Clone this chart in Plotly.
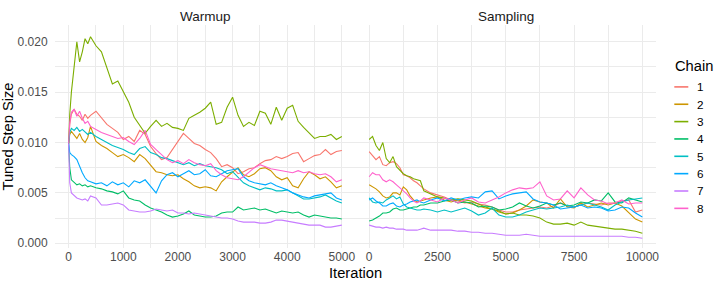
import plotly.graph_objects as go

# ---------------- data ----------------
chains = ["1", "2", "3", "4", "5", "6", "7", "8"]
colors = ["#F8766D", "#CD9600", "#7CAE00", "#00BE67", "#00BFC4", "#00A9FF", "#C77CFF", "#FF61CC"]

warm_iter = [0, 20, 50, 100, 150, 200, 250, 300, 350, 400] + list(range(500, 5001, 100))
samp_iter = list(range(0, 2001, 125)) + list(range(2250, 10001, 250))

warm_1 = [.0099, .0118, .0128, .0133, .0128, .0126, .0122, .0128, .0124, .0127,
          .0131, .0124, .0118, .0114, .0110, .0103, .0106, .0101, .0112, .0108,
          .0096, .0089, .0083, .0085, .0093, .0101, .0109, .0104, .0099, .0097,
          .0093, .0090, .0084, .0076, .0078, .0075, .0069, .0071, .0074, .0075,
          .0079, .0082, .0083, .0086, .0084, .0086, .0089, .0090, .0081, .0084,
          .0087, .0088, .0093, .0088, .0091, .0092]
warm_2 = [.0099, .0108, .0111, .0107, .0104, .0109, .0103, .0100, .0105, .0116,
          .0101, .0097, .0094, .0090, .0086, .0088, .0085, .0081, .0088, .0084,
          .0077, .0071, .0070, .0068, .0067, .0068, .0064, .0061, .0057, .0055,
          .0056, .0055, .0052, .0061, .0066, .0071, .0075, .0068, .0066, .0069,
          .0074, .0075, .0072, .0066, .0063, .0065, .0057, .0055, .0064, .0071,
          .0068, .0064, .0066, .0061, .0055, .0057]
warm_3 = [.0099, .0128, .0150, .0172, .0200, .0180, .0190, .0203, .0198, .0205,
          .0196, .0190, .0175, .0158, .0161, .0150, .0140, .0125, .0117, .0109,
          .0116, .0122, .0116, .0119, .0115, .0114, .0112, .0124, .0127, .0130,
          .0134, .0140, .0118, .0120, .0135, .0145, .0127, .0116, .0120, .0117,
          .0131, .0129, .0118, .0135, .0122, .0134, .0137, .0121, .0115, .0110,
          .0104, .0106, .0106, .0108, .0103, .0106]
warm_4 = [.0099, .0075, .0063, .0060, .0058, .0059, .0057, .0058, .0056, .0057,
          .0055, .0054, .0052, .0051, .0049, .0052, .0045, .0043, .0042, .0038,
          .0035, .0033, .0031, .0028, .0026, .0027, .0029, .0032, .0028, .0027,
          .0026, .0026, .0027, .0030, .0031, .0031, .0036, .0033, .0034, .0035,
          .0033, .0034, .0032, .0030, .0032, .0031, .0030, .0031, .0028, .0026,
          .0028, .0027, .0026, .0025, .0025, .0024]
warm_5 = [.0099, .0110, .0114, .0112, .0115, .0111, .0113, .0110, .0108, .0110,
          .0106, .0103, .0100, .0097, .0095, .0093, .0090, .0088, .0094, .0096,
          .0090, .0088, .0085, .0084, .0082, .0080, .0078, .0080, .0077, .0079,
          .0077, .0076, .0075, .0073, .0069, .0071, .0065, .0060, .0057, .0055,
          .0053, .0055, .0054, .0052, .0052, .0053, .0050, .0047, .0044, .0044,
          .0045, .0046, .0048, .0045, .0042, .0040]
warm_6 = [.0099, .0090, .0088, .0086, .0083, .0076, .0070, .0065, .0062, .0061,
          .0059, .0060, .0057, .0061, .0058, .0060, .0056, .0062, .0060, .0063,
          .0056, .0050, .0062, .0068, .0070, .0066, .0069, .0072, .0068, .0069,
          .0073, .0067, .0066, .0069, .0072, .0073, .0074, .0066, .0062, .0060,
          .0059, .0058, .0060, .0057, .0055, .0053, .0050, .0048, .0046, .0045,
          .0047, .0048, .0049, .0050, .0045, .0043]
warm_7 = [.0099, .0060, .0050, .0047, .0045, .0044, .0043, .0044, .0042, .0047,
          .0045, .0038, .0038, .0039, .0040, .0038, .0033, .0032, .0031, .0031,
          .0032, .0034, .0033, .0032, .0033, .0030, .0030, .0029, .0030, .0029,
          .0028, .0027, .0026, .0025, .0025, .0024, .0022, .0021, .0021, .0021,
          .0020, .0020, .0021, .0023, .0023, .0022, .0021, .0020, .0019, .0018,
          .0018, .0018, .0016, .0016, .0017, .0018]
warm_8 = [.0099, .0120, .0130, .0133, .0126, .0131, .0124, .0119, .0121, .0116,
          .0113, .0110, .0108, .0106, .0104, .0105, .0101, .0098, .0104, .0112,
          .0098, .0093, .0088, .0083, .0080, .0082, .0079, .0083, .0080, .0078,
          .0077, .0079, .0072, .0068, .0065, .0064, .0063, .0066, .0071, .0075,
          .0078, .0076, .0074, .0073, .0072, .0071, .0070, .0072, .0070, .0071,
          .0069, .0068, .0069, .0066, .0061, .0063]

samp_1 = [.0091, .0087, .0083, .0086, .0078, .0077, .0080, .0081, .0079, .0075,
          .0068, .0067, .0065, .0062, .0060, .0057, .0054,
          .0050, .0048, .0046, .0043, .0042, .0040, .0041, .0039, .0038, .0036,
          .0033, .0031, .0031, .0033, .0034, .0035, .0036, .0035, .0037, .0040,
          .0037, .0036, .0038, .0040, .0039, .0038, .0040, .0040, .0042, .0043,
          .0031, .0033]
samp_2 = [.0058, .0056, .0054, .0051, .0047, .0045, .0046, .0050, .0050, .0048,
          .0056, .0053, .0047, .0043, .0041, .0042, .0043,
          .0045, .0046, .0043, .0041, .0043, .0041, .0039, .0037, .0035, .0034,
          .0031, .0029, .0030, .0033, .0037, .0043, .0041, .0040, .0035, .0044,
          .0036, .0035, .0040, .0036, .0038, .0040, .0038, .0040, .0037, .0030,
          .0024, .0021]
samp_3 = [.0103, .0106, .0097, .0092, .0100, .0084, .0080, .0086, .0076, .0072,
          .0069, .0067, .0066, .0064, .0063, .0062, .0052,
          .0049, .0046, .0045, .0043, .0044, .0043, .0042, .0039, .0036, .0034,
          .0032, .0029, .0030, .0028, .0028, .0027, .0025, .0021, .0019, .0019,
          .0020, .0018, .0021, .0018, .0017, .0016, .0015, .0014, .0014, .0013,
          .0012, .0010]
samp_4 = [.0022, .0023, .0025, .0027, .0030, .0030, .0031, .0034, .0035, .0033,
          .0033, .0034, .0035, .0036, .0036, .0038, .0038,
          .0040, .0040, .0042, .0043, .0040, .0041, .0040, .0036, .0037, .0036,
          .0033, .0034, .0036, .0040, .0037, .0035, .0037, .0040, .0038, .0040,
          .0037, .0038, .0041, .0040, .0043, .0042, .0050, .0041, .0040, .0045,
          .0043, .0041]
samp_5 = [.0045, .0041, .0040, .0041, .0040, .0043, .0045, .0047, .0044, .0046,
          .0039, .0036, .0035, .0034, .0033, .0033, .0034,
          .0033, .0031, .0033, .0031, .0033, .0035, .0032, .0028, .0030, .0035,
          .0028, .0026, .0026, .0028, .0031, .0033, .0035, .0034, .0035, .0036,
          .0038, .0036, .0038, .0040, .0038, .0036, .0033, .0038, .0041, .0043,
          .0044, .0045]
samp_6 = [.0043, .0045, .0042, .0040, .0037, .0037, .0039, .0040, .0037, .0036,
          .0038, .0039, .0041, .0042, .0043, .0041, .0040,
          .0043, .0045, .0042, .0045, .0043, .0045, .0046, .0045, .0051, .0052,
          .0044, .0047, .0049, .0050, .0051, .0044, .0041, .0040, .0038, .0034,
          .0035, .0036, .0038, .0035, .0036, .0035, .0032, .0033, .0036, .0035,
          .0030, .0026]
samp_7 = [.0018, .0017, .0016, .0016, .0015, .0016, .0015, .0015, .0014, .0014,
          .0014, .0013, .0013, .0013, .0013, .0014, .0015,
          .0013, .0013, .0013, .0013, .0012, .0012, .0011, .0011, .0010, .0010,
          .0009, .0008, .0008, .0008, .0009, .0008, .0007, .0007, .0007, .0007,
          .0007, .0007, .0007, .0007, .0007, .0007, .0007, .0007, .0007, .0006,
          .0006, .0005]
samp_8 = [.0066, .0070, .0068, .0068, .0063, .0061, .0063, .0061, .0058, .0055,
          .0052, .0049, .0045, .0042, .0040, .0042, .0045,
          .0043, .0041, .0045, .0043, .0040, .0043, .0045, .0041, .0040, .0043,
          .0046, .0050, .0053, .0055, .0054, .0055, .0061, .0047, .0043, .0044,
          .0052, .0045, .0055, .0048, .0043, .0042, .0039, .0040, .0043, .0039,
          .0040, .0040]

warm_ticks = [0, 1000, 2000, 3000, 4000, 5000]
samp_ticks = [0, 2500, 5000, 7500, 10000]
y_ticks = [0.0, 0.005, 0.010, 0.015, 0.020]
panel_titles = ["Warmup", "Sampling"]

warmup = [warm_1, warm_2, warm_3, warm_4, warm_5, warm_6, warm_7, warm_8]
sampling = [samp_1, samp_2, samp_3, samp_4, samp_5, samp_6, samp_7, samp_8]
for s in warmup:
    assert len(s) == len(warm_iter), len(s)
for s in sampling:
    assert len(s) == len(samp_iter), len(s)

# ---------------- figure ----------------
W, H = 718, 285
ML, MR, MT, MB = 55, 62, 25, 37
PW, PH = W - ML - MR, H - MT - MB
FONT = "Liberation Sans, Arial, sans-serif"
GRID = "#EBEBEB"


def px_x(px):
    return (px - ML) / PW


def px_y(py):
    return (H - MB - py) / PH


fig = go.Figure()
for name, col, yw, ys in zip(chains, colors, warmup, sampling):
    fig.add_trace(go.Scatter(x=warm_iter, y=yw, mode="lines", name=name,
                             line=dict(color=col, width=1.1), xaxis="x", yaxis="y",
                             showlegend=False, legendgroup=name))
    fig.add_trace(go.Scatter(x=samp_iter, y=ys, mode="lines", name=name,
                             line=dict(color=col, width=1.1), xaxis="x2", yaxis="y2",
                             showlegend=False, legendgroup=name))

tickfont = dict(family=FONT, size=12, color="#4D4D4D")
common_x = dict(showgrid=True, gridcolor=GRID, gridwidth=1.1, zeroline=False,
                showline=False, ticks="", tickfont=tickfont, tickformat="d", automargin=False)
common_y = dict(showgrid=True, gridcolor=GRID, gridwidth=1.1, zeroline=False,
                showline=False, range=[-0.00047, 0.02166], tickvals=y_ticks,
                tickformat=".3f", tickfont=tickfont, automargin=False,
                minor=dict(tickvals=[0.0025, 0.0075, 0.0125, 0.0175], showgrid=True,
                           gridcolor=GRID, gridwidth=0.55))

fig.update_layout(
    width=W, height=H,
    margin=dict(l=ML, r=MR, t=MT, b=MB, pad=0, autoexpand=False),
    paper_bgcolor="white", plot_bgcolor="white",
    font=dict(family=FONT, size=12, color="black"),
    showlegend=False,
    xaxis=dict(domain=[0, 0.5], range=[-250, 5250], tickvals=warm_ticks, anchor="y",
               minor=dict(tickvals=[500, 1500, 2500, 3500, 4500], showgrid=True,
                          gridcolor=GRID, gridwidth=0.55), **common_x),
    xaxis2=dict(domain=[0.5, 1], range=[-500, 10500], tickvals=samp_ticks, anchor="y2",
                minor=dict(tickvals=[1250, 3750, 6250, 8750], showgrid=True,
                           gridcolor=GRID, gridwidth=0.55), **common_x),
    yaxis=dict(anchor="x", ticks="outside", ticklen=4, tickcolor="rgba(0,0,0,0)",
               title=dict(text="Tuned Step Size", font=dict(family=FONT, size=14.7, color="black"),
                          standoff=4), **common_y),
    yaxis2=dict(anchor="x2", matches="y", showticklabels=False, **common_y),
)

ann = []
# facet strip titles
for title, dom in zip(panel_titles, [(0, 0.5), (0.5, 1)]):
    ann.append(dict(text=title, x=(dom[0] + dom[1]) / 2, y=px_y(16), xref="paper", yref="paper",
                    showarrow=False, xanchor="center", yanchor="middle",
                    font=dict(family=FONT, size=13.5, color="#1A1A1A")))
# shared x-axis title
ann.append(dict(text="Iteration", x=0.5, y=px_y(273), xref="paper", yref="paper",
                showarrow=False, xanchor="center", yanchor="middle",
                font=dict(family=FONT, size=14.7, color="black")))
# legend (ggplot style)
ann.append(dict(text="Chain", x=px_x(672.5), y=px_y(66), xref="paper", yref="paper",
                showarrow=False, xanchor="left", yanchor="middle",
                font=dict(family=FONT, size=14.7, color="black")))
shapes = []
for i, (name, col) in enumerate(zip(chains, colors)):
    cy = 86.9 + i * 17.35
    shapes.append(dict(type="line", xref="paper", yref="paper",
                       x0=px_x(674.3), x1=px_x(688.3), y0=px_y(cy), y1=px_y(cy),
                       line=dict(color=col, width=1.6)))
    ann.append(dict(text=name, x=px_x(694.5), y=px_y(cy), xref="paper", yref="paper",
                    showarrow=False, xanchor="left", yanchor="middle",
                    font=dict(family=FONT, size=11.7, color="black")))
fig.update_layout(annotations=ann, shapes=shapes)

fig.write_html("out.html", config={"displayModeBar": False},
               post_script="document.body.style.margin='0';document.body.style.padding='0';")
